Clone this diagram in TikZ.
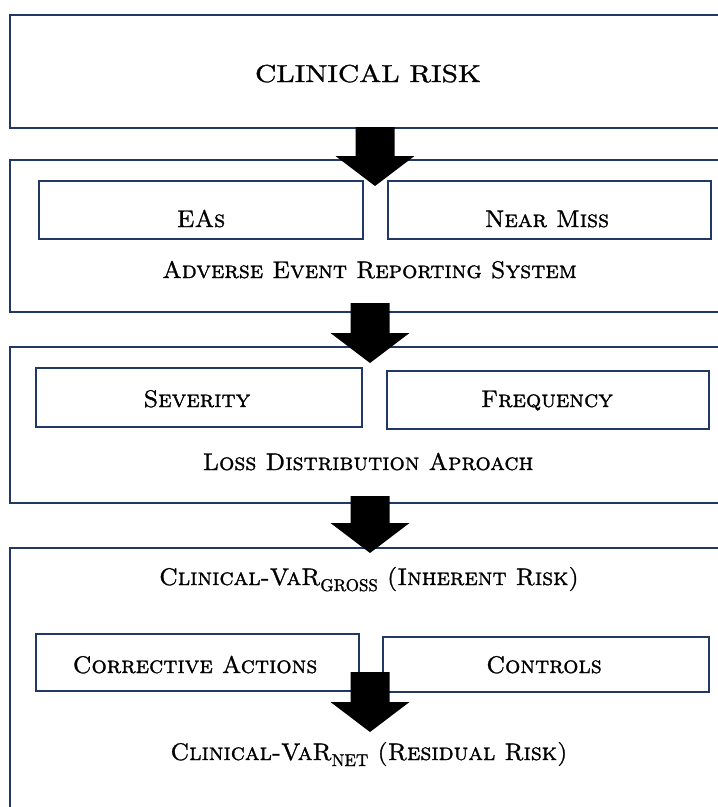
\documentclass[tikz,border=0pt]{standalone}
\usepackage{fontspec}
\setmainfont{lmroman10-regular}[Extension=.otf, SmallCapsFont=lmromancaps10-regular, BoldFont=lmroman10-bold, FakeBold=1.2]
\newfontfamily\widefont{lmroman10-regular}[Extension=.otf, FakeStretch=1.2, FakeBold=1.2]
\usetikzlibrary{calc}
\definecolor{navy}{RGB}{31,56,100}
\newcommand\blockarrow[2]{%
  \fill[black] let \p1=(#1), \p2=(#2) in
    (\x1-19.5pt,\y1) -- (\x1+19.5pt,\y1) -- (\x1+19.5pt,\y2+30pt) --
    (\x1+39.5pt,\y2+30pt) -- (\x2,\y2) -- (\x1-39.5pt,\y2+30pt) --
    (\x1-19.5pt,\y2+30pt) -- cycle;}
\newcommand\subtxt[1]{\raisebox{-6pt}{\upshape\fontsize{17}{18}\selectfont #1}}
\begin{document}
\begin{tikzpicture}[x=1pt,y=-1pt,
  frame/.style={draw=navy, line width=2pt, rectangle, inner sep=0pt},
  lbl/.style={font=\fontsize{24}{28}\selectfont\scshape, inner sep=0pt, anchor=base}]
\clip (0,0) rectangle (718,807);
\fill[white] (0,0) rectangle (718,807);
% outer frames
\node[frame, minimum width=725pt, minimum height=113pt] (top) at (372.5,71.5) {};
\node[frame, minimum width=725pt, minimum height=152pt] (aers) at (372.5,236) {};
\node[frame, minimum width=725pt, minimum height=156pt] (lda) at (372.5,425) {};
\node[frame, minimum width=725pt, minimum height=282pt] (var) at (372.5,689) {};
% inner boxes
\node[frame, minimum width=324pt, minimum height=58pt] (eas) at (201,210) {};
\node[frame, minimum width=323pt, minimum height=58pt] (near) at (549.5,210) {};
\node[frame, minimum width=326pt, minimum height=59pt] (sev) at (199,397.5) {};
\node[frame, minimum width=322pt, minimum height=58pt] (freq) at (548,400) {};
\node[frame, minimum width=323pt, minimum height=57pt] (corr) at (197.5,662.5) {};
\node[frame, minimum width=326pt, minimum height=55pt] (ctrl) at (546,664.5) {};
% texts
\node[lbl, font=\widefont\fontsize{24.5}{28}\selectfont] (tclin) at (368,82) {CLINICAL RISK};
\node[lbl] (teas) at (201,227) {EAs};
\node[lbl] (tnear) at (547,227) {Near Miss};
\node[lbl] (taers) at (369.5,278) {Adverse Event Reporting System};
\node[lbl] (tsev) at (197,407) {Severity};
\node[lbl] (tfreq) at (547,407) {Frequency};
\node[lbl] (tlda) at (368,470) {Loss Distribution Aproach};
\node[lbl] (tgross) at (369,585) {Clinical-VaR\subtxt{GROSS} (Inherent Risk)};
\node[lbl] (tcorr) at (195,673) {Corrective Actions};
\node[lbl] (tctrl) at (544,673) {Controls};
\node[lbl] (tnet) at (369,760) {Clinical-VaR\subtxt{NET} (Residual Risk)};
% arrows
\coordinate (a1s) at (375,127);
\coordinate (a1t) at (375,186);
\coordinate (a2s) at (370,303);
\coordinate (a2t) at (370,363);
\coordinate (a3s) at (370,496);
\coordinate (a3t) at (370,553);
\coordinate (a4s) at (370,672);
\coordinate (a4t) at (370,732);
\blockarrow{a1s}{a1t}
\blockarrow{a2s}{a2t}
\blockarrow{a3s}{a3t}
\blockarrow{a4s}{a4t}
\end{tikzpicture}
\end{document}
